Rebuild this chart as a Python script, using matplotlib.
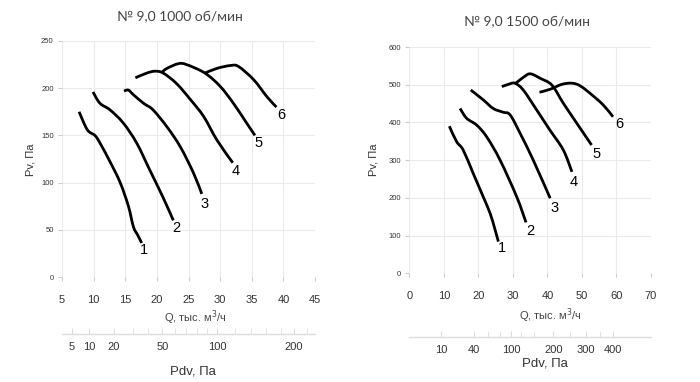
import numpy as np
import matplotlib
matplotlib.use("Agg")
import matplotlib.pyplot as plt
from matplotlib.path import Path
from matplotlib.patches import PathPatch

plt.rcParams['font.family'] = ['Liberation Sans', 'DejaVu Sans']

# ---------------- data: 1000 rpm ----------------
title_a = "№ 9,0 1000 об/мин"
q1_a = [7.7, 9.0, 10.2, 11.0, 12.6, 14.2, 15.5, 16.3, 17.0, 17.6]
p1_a = [175, 156, 150, 142, 122, 100, 75, 53, 44, 36]
q2_a = [9.9, 11.0, 12.6, 14.7, 16.8, 18.9, 21.0, 22.6]
p2_a = [196, 184, 177, 163, 142, 113, 84, 60]
q3_a = [14.8, 15.5, 16.3, 17.9, 19.4, 21.6, 23.7, 25.8, 27.1]
p3_a = [197, 198, 193, 184, 177, 159, 138, 110, 88]
q4_a = [16.6, 18.4, 19.7, 21.0, 23.1, 25.3, 27.4, 29.5, 32.0]
p4_a = [211, 216, 218, 216, 205, 188, 170, 145, 121]
q5_a = [20.8, 21.6, 23.4, 24.7, 27.6, 30.0, 32.1, 34.2, 35.5]
p5_a = [217, 221, 226, 225, 216, 202, 184, 163, 150]
q6_a = [27.6, 29.5, 31.6, 32.9, 35.3, 37.4, 38.9]
p6_a = [216, 221, 224, 223, 209, 191, 180]
lab_q_a = [17.9, 23.0, 27.5, 32.4, 36.1, 39.7]
lab_p_a = [29, 52, 77, 112, 142, 172]

# ---------------- data: 1500 rpm ----------------
title_b = "№ 9,0 1500 об/мин"
q1_b = [11.6, 13.7, 15.6, 18.5, 21.4, 23.4, 24.7, 25.8]
p1_b = [390, 349, 327, 265, 203, 159, 120, 84]
q2_b = [14.7, 16.6, 19.5, 22.4, 26.3, 31.1, 33.8]
p2_b = [437, 411, 393, 362, 300, 203, 135]
q3_b = [17.8, 21.4, 24.3, 27.2, 29.2, 32.1, 35.9, 40.8]
p3_b = [486, 460, 437, 427, 420, 371, 300, 199]
q4_b = [26.8, 28.7, 30.6, 33.0, 36.9, 40.7, 44.6, 47.1]
p4_b = [495, 501, 504, 486, 433, 380, 327, 269]
q5_b = [30.6, 34.0, 35.5, 37.9, 41.3, 44.6, 48.5, 52.8]
p5_b = [502, 526, 528, 517, 499, 451, 398, 340]
q6_b = [37.7, 40.8, 44.2, 47.1, 49.5, 52.9, 56.2, 59.0]
p6_b = [480, 488, 501, 504, 497, 473, 446, 415]
lab_q_b = [26.8, 35.0, 42.0, 47.7, 54.2, 60.9]
lab_p_b = [66, 113, 172, 243, 316, 396]

curve_names = ["1", "2", "3", "4", "5", "6"]

# dynamic pressure axis (Pdv = k * Q^2)
k_pdv = 0.115
pdv_major_a = [5, 10, 20, 50, 100, 200]
pdv_minor_a = [30, 40, 60, 70, 80, 90, 120, 140, 160, 180, 220]
pdv_major_b = [10, 40, 100, 200, 300, 400]
pdv_minor_b = [60, 80, 120, 150, 250, 350]

xt_a = [5, 10, 15, 20, 25, 30, 35, 40, 45]
yt_a = [0, 50, 100, 150, 200, 250]
xt_b = [0, 10, 20, 30, 40, 50, 60, 70]
yt_b = [0, 100, 200, 300, 400, 500, 600]

W, H = 700, 382
fig = plt.figure(figsize=(W / 100, H / 100), dpi=100)
fig.patch.set_facecolor("white")

grid_c = "#ebebeb"
tick_c = "#333333"


def fx(px):
    return px / W


def fy(py):
    return 1 - py / H


def smooth_curve(ax, q, p):
    """Catmull-Rom through the data points, drawn as cubic Bezier path in display space."""
    pts = ax.transData.transform(np.column_stack([q, p]))
    n = len(pts)
    verts = [pts[0]]
    codes = [Path.MOVETO]
    for i in range(n - 1):
        p0 = pts[i - 1] if i > 0 else pts[i]
        p1 = pts[i]
        p2 = pts[i + 1]
        p3 = pts[i + 2] if i + 2 < n else pts[i + 1]
        c1 = p1 + (p2 - p0) / 6.0
        c2 = p2 - (p3 - p1) / 6.0
        verts += [c1, c2, p2]
        codes += [Path.CURVE4] * 3
    path = Path(ax.transData.inverted().transform(np.array(verts)), codes)
    ax.add_patch(PathPatch(path, facecolor="none", edgecolor="black", lw=2.0,
                           capstyle="butt", joinstyle="round", transform=ax.transData))


def make_panel(x0, x1, ytop, ybot, xlim, ylim, xt, yt, curves, labs, title,
               title_xy, pv_xy, q_xy, pdv_y, pdv_major, pdv_minor, pdvlab_xy):
    ax = fig.add_axes([fx(x0), fy(ybot), fx(x1 - x0), (ybot - ytop) / H])
    ax.set_xlim(*xlim)
    ax.set_ylim(*ylim)
    ax.set_xticks(xt)
    ax.set_yticks(yt)
    ax.grid(True, color=grid_c, lw=0.8)
    ax.set_axisbelow(True)
    for s in ax.spines.values():
        s.set_visible(False)
    ax.tick_params(axis="x", length=3, color="#cccccc", pad=10, labelsize=8, labelcolor=tick_c)
    ax.tick_params(axis="y", length=3, color="#cccccc", pad=3, labelsize=5.5, labelcolor=tick_c)
    for (q, p) in curves:
        smooth_curve(ax, q, p)
    for name, lq, lp in zip(curve_names, labs[0], labs[1]):
        ax.text(lq, lp, name, fontsize=10.5, ha="center", va="center", color="black")

    fig.text(fx(title_xy[0]), fy(title_xy[1]), title, ha="center", va="center",
             fontsize=10, color="#444444", family=["Lato", "DejaVu Sans"])
    fig.text(fx(pv_xy[0]), fy(pv_xy[1]), "Pv, Па", rotation=90, ha="center", va="center",
             fontsize=8, color=tick_c)
    fig.text(fx(q_xy[0]), fy(q_xy[1]), "Q, тыс. м$^3$/ч", ha="center", va="center",
             fontsize=8, color="#444444")

    # Pdv axis
    ax2 = fig.add_axes([fx(x0), fy(pdv_y), fx(x1 - x0), 0.0005])
    ax2.set_xlim(*xlim)
    ax2.set_ylim(0, 1)
    ax2.patch.set_alpha(0)
    for s in ["top", "left", "right"]:
        ax2.spines[s].set_visible(False)
    ax2.spines["bottom"].set_color("#dddddd")
    ax2.spines["bottom"].set_linewidth(1.0)
    ax2.set_yticks([])
    ax2.set_xticks([np.sqrt(v / k_pdv) for v in pdv_major])
    ax2.set_xticklabels([str(v) for v in pdv_major])
    ax2.set_xticks([np.sqrt(v / k_pdv) for v in pdv_minor], minor=True)
    ax2.tick_params(axis="x", which="both", direction="in", length=4, color="#dddddd",
                    pad=6, labelsize=8, labelcolor=tick_c)
    fig.text(fx(pdvlab_xy[0]), fy(pdvlab_xy[1]), "Pdv, Па", ha="center", va="center",
             fontsize=9.5, color=tick_c)
    return ax


make_panel(62, 315, 41, 277, (5, 45), (0, 250), xt_a, yt_a,
           [(q1_a, p1_a), (q2_a, p2_a), (q3_a, p3_a), (q4_a, p4_a), (q5_a, p5_a), (q6_a, p6_a)],
           (lab_q_a, lab_p_a), title_a, (180, 16), (31, 160), (195, 318),
           334, pdv_major_a, pdv_minor_a, (193, 372))

make_panel(409.3, 651, 47, 273.3, (0, 70), (0, 600), xt_b, yt_b,
           [(q1_b, p1_b), (q2_b, p2_b), (q3_b, p3_b), (q4_b, p4_b), (q5_b, p5_b), (q6_b, p6_b)],
           (lab_q_b, lab_p_b), title_b, (527, 21), (374, 160), (550, 316),
           337, pdv_major_b, pdv_minor_b, (545, 363))

fig.savefig("out.png", dpi=100, facecolor="white")
